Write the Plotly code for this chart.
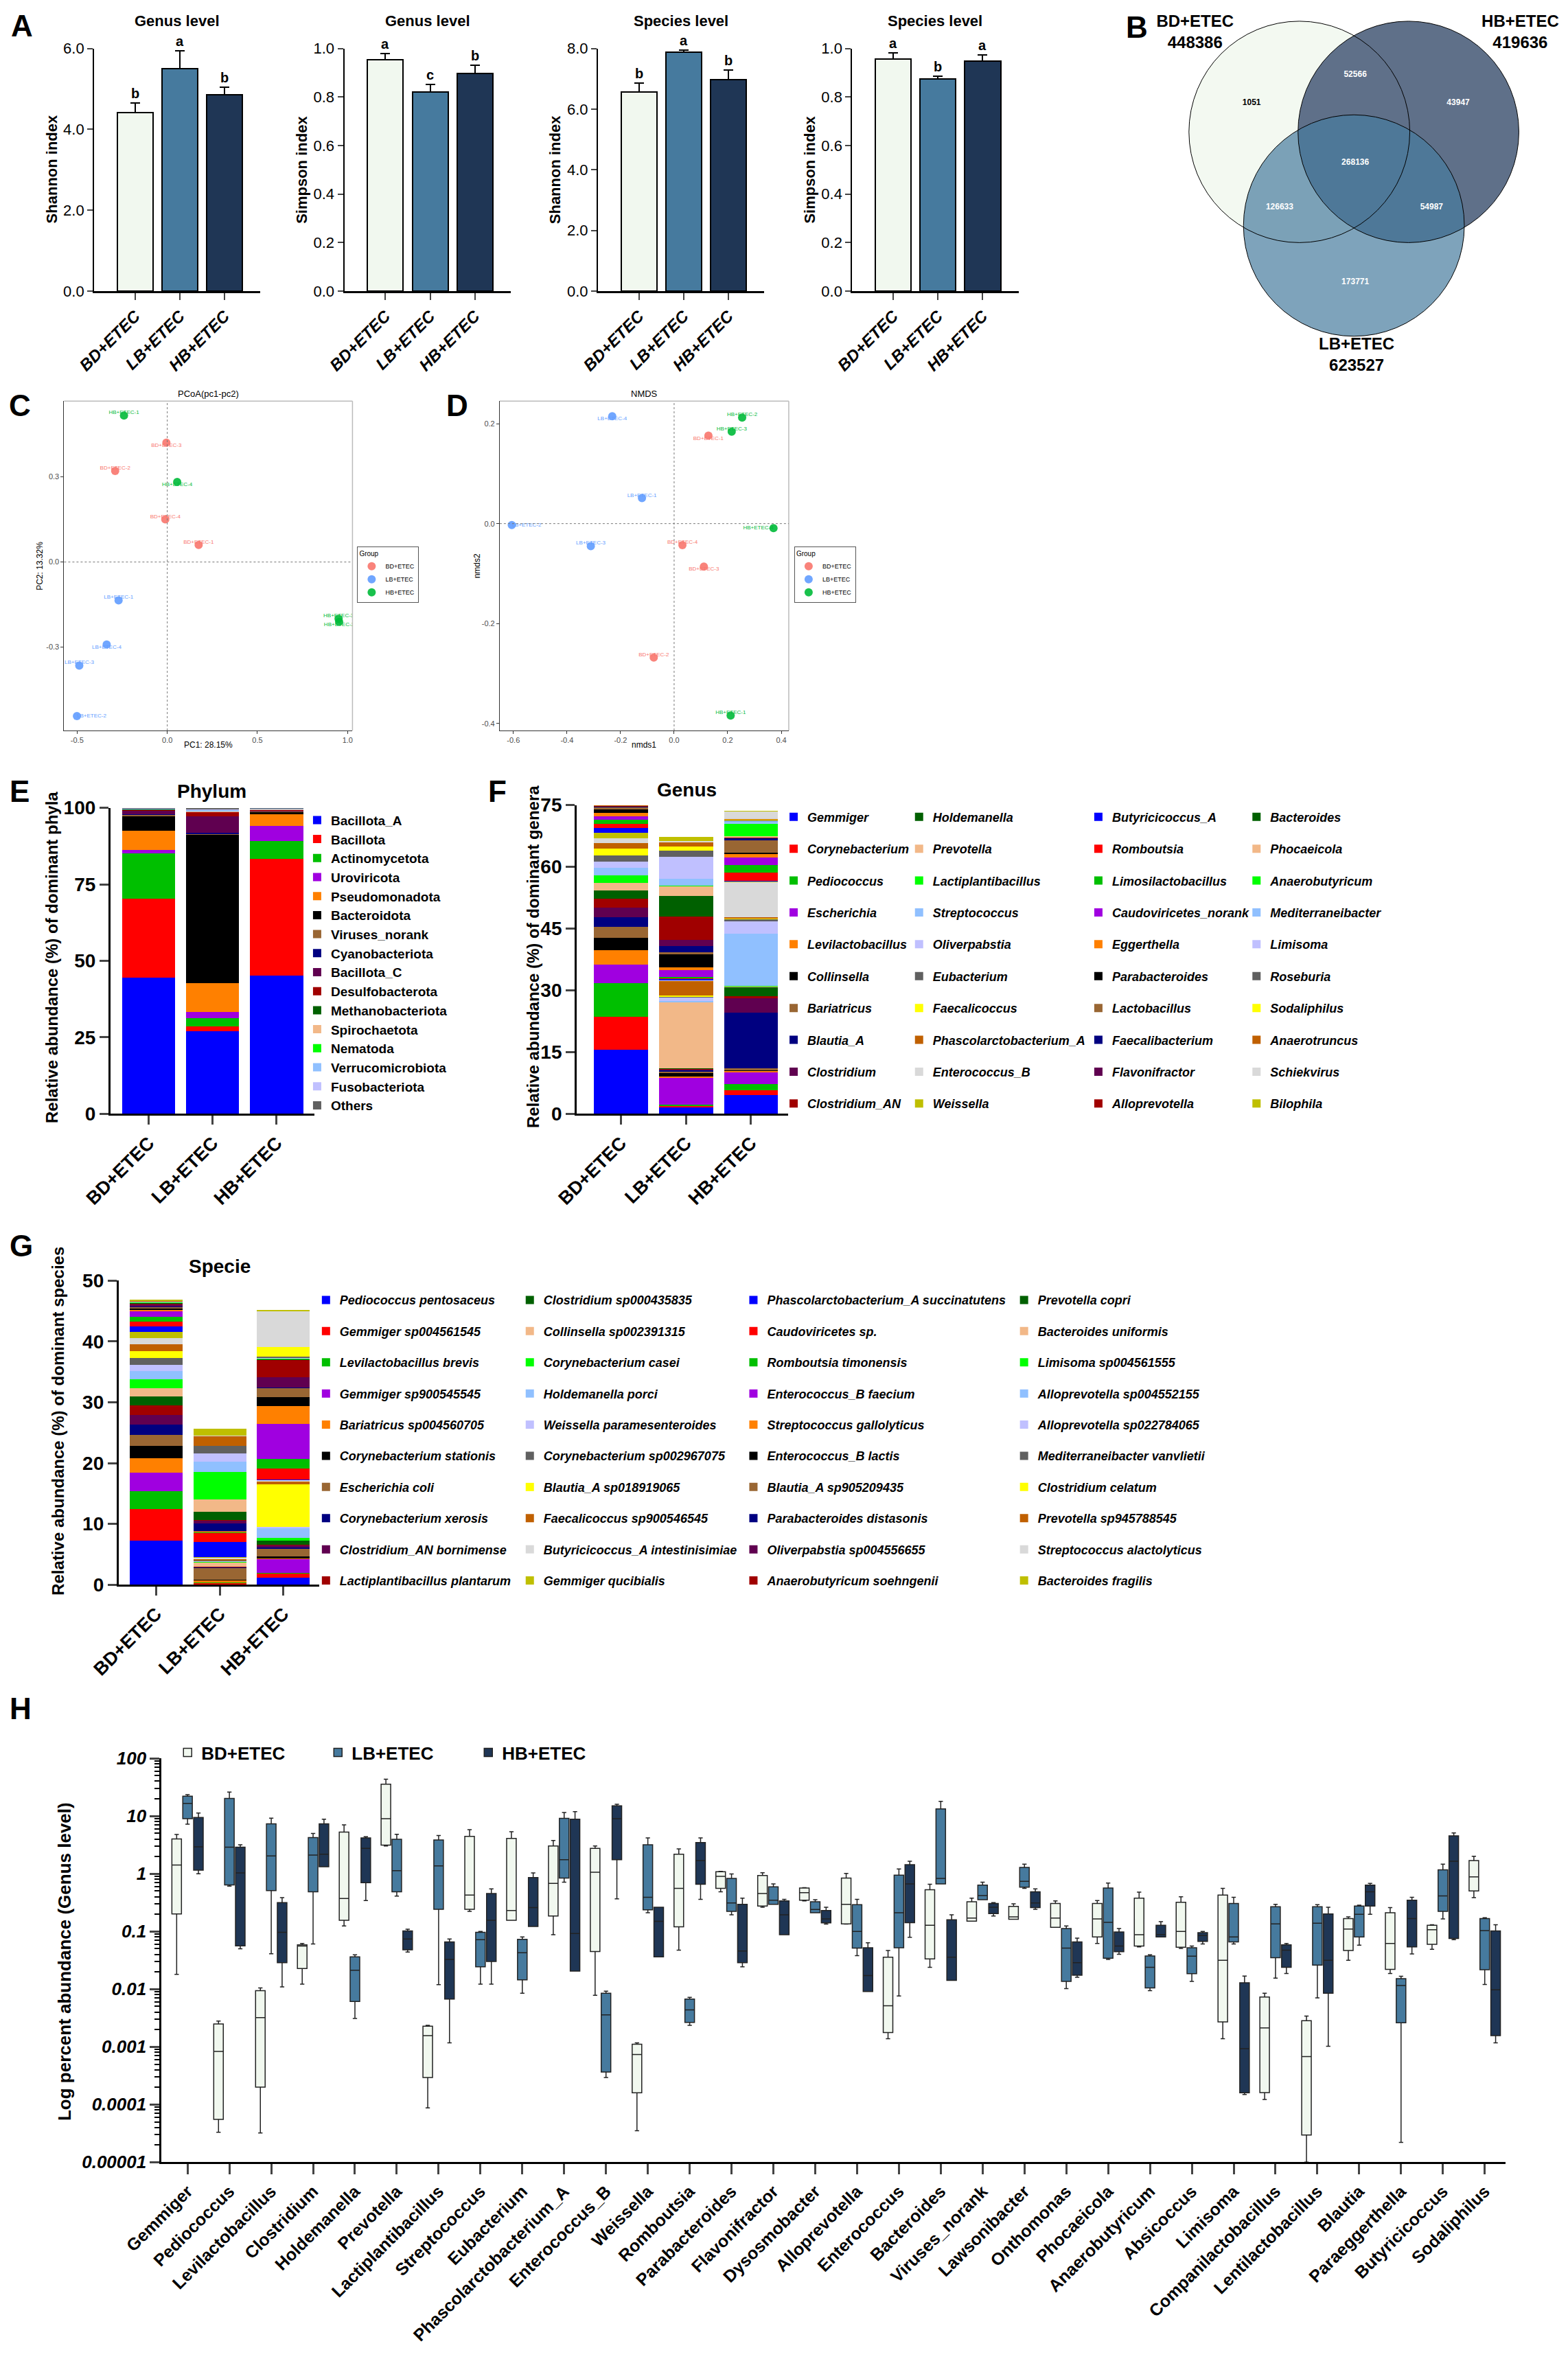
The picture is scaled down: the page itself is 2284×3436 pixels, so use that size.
import plotly.graph_objects as go

# Reference canvas in px; every layout position below is given in these units
W, H = 2284, 3436
FONT = "Liberation Sans, Arial, Helvetica, sans-serif"

# ── Groups ────────────────────────────────────────────────────────────────────
groups = ["BD+ETEC", "LB+ETEC", "HB+ETEC"]
group_fill = ["#F1F8EF", "#467A9E", "#1F3655"]
ord_colors = ["#F8766D", "#619CFF", "#00BA38"]

# Prism style 20 colour cycle of the stacked bars
palette = ["#0000FF", "#FF0000", "#00BF00", "#A000E0", "#FF8000",
           "#000000", "#996633", "#000080", "#600050", "#A00000",
           "#006000", "#F2B888", "#00FF00", "#90C0FF", "#C0C0FF",
           "#606060", "#FFFF00", "#C06000", "#D9D9D9", "#BFBF00"]

# ── A: alpha diversity (mean, SD, letters) ───────────────────────────────────
alpha_titles = ["Genus level", "Genus level", "Species level", "Species level"]
alpha_ytitles = ["Shannon index", "Simpson index", "Shannon index", "Simpson index"]
shannon_genus = [4.42, 5.51, 4.85]
shannon_genus_sd = [0.23, 0.44, 0.20]
shannon_genus_sig = ["b", "a", "b"]
simpson_genus = [0.953, 0.822, 0.897]
simpson_genus_sd = [0.025, 0.031, 0.033]
simpson_genus_sig = ["a", "c", "b"]
shannon_species = [6.57, 7.87, 6.97]
shannon_species_sd = [0.29, 0.08, 0.32]
shannon_species_sig = ["b", "a", "b"]
simpson_species = [0.957, 0.874, 0.949]
simpson_species_sd = [0.024, 0.011, 0.025]
simpson_species_sig = ["a", "b", "a"]
alpha_ymax = [6, 1, 8, 1]
alpha_dtick = [2, 0.2, 2, 0.2]

# ── B: Venn ──────────────────────────────────────────────────────────────────
venn_sets = ["BD+ETEC", "HB+ETEC", "LB+ETEC"]
venn_totals = [448386, 419636, 623527]
venn_regions = ["BD", "BD&HB", "HB", "BD&HB&LB", "BD&LB", "HB&LB", "LB"]
venn_counts = [1051, 52566, 43947, 268136, 126633, 54987, 173771]

# ── C: PCoA (samples 1..4 of each group) ─────────────────────────────────────
pcoa_bd_x = [0.174, -0.289, -0.005, -0.011]
pcoa_bd_y = [0.060, 0.321, 0.421, 0.150]
pcoa_lb_x = [-0.270, -0.501, -0.488, -0.336]
pcoa_lb_y = [-0.135, -0.543, -0.365, -0.291]
pcoa_hb_x = [-0.240, 0.953, 0.950, 0.055]
pcoa_hb_y = [0.516, -0.211, -0.200, 0.282]

# ── D: NMDS ──────────────────────────────────────────────────────────────────
nmds_bd_x = [0.128, -0.076, 0.111, 0.031]
nmds_bd_y = [0.176, -0.268, -0.086, -0.043]
nmds_lb_x = [-0.120, -0.606, -0.311, -0.231]
nmds_lb_y = [0.051, -0.003, -0.045, 0.215]
nmds_hb_x = [0.211, 0.254, 0.215, 0.371]
nmds_hb_y = [-0.384, 0.212, 0.184, -0.009]

# ── E: phylum composition (%) ────────────────────────────────────────────────
phyla = ["Bacillota_A", "Bacillota", "Actinomycetota", "Uroviricota", "Pseudomonadota",
         "Bacteroidota", "Viruses_norank", "Cyanobacteriota", "Bacillota_C", "Desulfobacterota",
         "Methanobacteriota", "Spirochaetota", "Nematoda", "Verrucomicrobiota", "Fusobacteriota",
         "Others"]
phylum_bd = [44.5, 25.9, 14.6, 1.3, 6.2, 5.0, 0.3, 0.1, 1.4, 0.2, 0.1, 0.1, 0.05, 0.05, 0.05, 0.15]
phylum_lb = [26.9, 1.7, 2.7, 2.0, 9.4, 48.6, 0.4, 0.1, 5.4, 1.5, 0.1, 0.2, 0.1, 0.4, 0.2, 0.3]
phylum_hb = [45.1, 38.1, 6.0, 4.8, 3.9, 0.8, 0.2, 0.1, 0.3, 0.2, 0.05, 0.1, 0.05, 0.1, 0.05, 0.1]

# ── F: genus composition (%) ─────────────────────────────────────────────────
genera = ["Gemmiger", "Corynebacterium", "Pediococcus", "Escherichia", "Levilactobacillus",
          "Collinsella", "Bariatricus", "Blautia_A", "Clostridium", "Clostridium_AN",
          "Holdemanella", "Prevotella", "Lactiplantibacillus", "Streptococcus", "Oliverpabstia",
          "Eubacterium", "Faecalicoccus", "Phascolarctobacterium_A", "Enterococcus_B", "Weissella",
          "Butyricicoccus_A", "Romboutsia", "Limosilactobacillus", "Caudoviricetes_norank", "Eggerthella",
          "Parabacteroides", "Lactobacillus", "Faecalibacterium", "Flavonifractor", "Alloprevotella",
          "Bacteroides", "Phocaeicola", "Anaerobutyricum", "Mediterraneibacter", "Limisoma",
          "Roseburia", "Sodaliphilus", "Anaerotruncus", "Schiekvirus", "Bilophila"]
genus_bd = [15.5, 8.1, 8.1, 4.6, 3.4, 3.1, 2.7, 2.2, 2.4, 2.1,
            2.0, 1.9, 1.8, 1.8, 1.5, 1.5, 1.7, 1.3, 1.3, 1.2,
            1.2, 1.0, 1.1, 0.8, 0.8, 0.8, 0.6, 0.3, 0.02, 0.02,
            0.02, 0.02, 0.02, 0.02, 0.02, 0.02, 0.02, 0.02, 0.02, 0.02]
genus_lb = [1.8, 0.3, 0.1, 6.7, 0.2, 0.8, 0.4, 0.5, 0.1, 0.1,
            0.1, 16.1, 0.1, 0.1, 1.0, 0.1, 0.3, 3.6, 0.1, 0.1,
            0.3, 0.1, 0.3, 1.6, 0.6, 3.2, 0.6, 1.4, 1.5, 5.7,
            5.1, 2.4, 0.1, 1.6, 5.4, 1.4, 1.0, 1.2, 0.1, 1.0]
genus_hb = [4.5, 1.3, 1.4, 3.1, 0.1, 0.4, 0.2, 13.5, 3.7, 0.3,
            2.4, 0.1, 0.1, 12.7, 3.0, 0.4, 0.4, 0.1, 8.7, 0.1,
            0.1, 2.0, 1.8, 1.9, 1.0, 0.1, 3.1, 0.5, 0.1, 0.1,
            0.1, 0.1, 3.0, 0.8, 0.1, 0.1, 0.1, 0.1, 1.9, 0.1]

# ── G: species composition (%) ───────────────────────────────────────────────
species = ["Pediococcus pentosaceus", "Gemmiger sp004561545", "Levilactobacillus brevis",
           "Gemmiger sp900545545", "Bariatricus sp004560705", "Corynebacterium stationis",
           "Escherichia coli", "Corynebacterium xerosis", "Clostridium_AN bornimense",
           "Lactiplantibacillus plantarum",
           "Clostridium sp000435835", "Collinsella sp002391315", "Corynebacterium casei",
           "Holdemanella porci", "Weissella paramesenteroides", "Corynebacterium sp002967075",
           "Blautia_A sp018919065", "Faecalicoccus sp900546545", "Butyricicoccus_A intestinisimiae",
           "Gemmiger qucibialis",
           "Phascolarctobacterium_A succinatutens", "Caudoviricetes sp.", "Romboutsia timonensis",
           "Enterococcus_B faecium", "Streptococcus gallolyticus", "Enterococcus_B lactis",
           "Blautia_A sp905209435", "Parabacteroides distasonis", "Oliverpabstia sp004556655",
           "Anaerobutyricum soehngenii",
           "Prevotella copri", "Bacteroides uniformis", "Limisoma sp004561555",
           "Alloprevotella sp004552155", "Alloprevotella sp022784065", "Mediterraneibacter vanvlietii",
           "Clostridium celatum", "Prevotella sp945788545", "Streptococcus alactolyticus",
           "Bacteroides fragilis"]
species_bd = [7.3, 5.1, 3.0, 3.0, 2.4, 2.0, 1.8, 1.7, 1.6, 1.6,
              1.5, 1.3, 1.5, 1.3, 1.1, 1.1, 1.1, 1.1, 1.1, 1.0,
              0.9, 0.8, 0.8, 0.8, 0.3, 0.2, 0.2, 0.2, 0.3, 0.1,
              0.1, 0.05, 0.05, 0.05, 0.05, 0.05, 0.05, 0.05, 0.05, 0.05]
species_lb = [0.1, 0.2, 0.05, 0.05, 0.3, 0.1, 2.0, 0.05, 0.05, 0.05,
              0.05, 0.7, 0.05, 0.05, 0.05, 0.1, 0.1, 0.2, 0.2, 0.1,
              2.5, 1.5, 0.05, 0.05, 0.05, 0.05, 0.05, 1.3, 0.4, 0.1,
              1.4, 2.0, 4.5, 1.7, 1.4, 1.2, 0.05, 1.6, 0.05, 1.1]
species_hb = [1.1, 0.8, 0.05, 2.3, 0.05, 0.3, 1.3, 0.2, 0.4, 0.05,
              0.7, 0.05, 0.4, 1.6, 0.2, 0.05, 7.0, 0.4, 0.2, 0.05,
              0.05, 1.8, 1.6, 5.8, 2.9, 1.5, 1.5, 0.05, 1.7, 2.9,
              0.05, 0.05, 0.05, 0.05, 0.05, 0.3, 1.5, 0.05, 5.9, 0.05]

# ── H: genus level abundance (%), box statistics per group ───────────────────
h_genera = ["Gemmiger", "Pediococcus", "Levilactobacillus", "Clostridium", "Holdemanella",
            "Prevotella", "Lactiplantibacillus", "Streptococcus", "Eubacterium",
            "Phascolarctobacterium_A", "Enterococcus_B", "Weissella", "Romboutsia",
            "Parabacteroides", "Flavonifractor", "Dysosmobacter", "Alloprevotella", "Enterococcus",
            "Bacteroides", "Viruses_norank", "Lawsonibacter", "Onthomonas", "Phocaeicola",
            "Anaerobutyricum", "Absicoccus", "Limisoma", "Companilactobacillus",
            "Lentilactobacillus", "Blautia", "Paraeggerthella", "Butyricicoccus", "Sodaliphilus"]
h_ticks = [0.00001, 0.0001, 0.001, 0.01, 0.1, 1, 10, 100]
h_ticktext = ["0.00001", "0.0001", "0.001", "0.01", "0.1", "1", "10", "100"]

bd_min = [0.018, 3.3e-5, 3.2e-5, 0.0122, 0.124, 3.03, 8.7e-5, 0.222, 0.156, 0.0873, 0.0078,
          3.5e-5, 0.0472, 0.486, 0.262, 0.337, 0.134, 0.00138, 0.0238, 0.151, 0.162, 0.118,
          0.0617, 0.054, 0.0505, 0.00138, 0.000122, 1e-5, 0.0316, 0.0186, 0.0488, 0.385]
bd_q1 = [0.2, 5.5e-5, 0.0002, 0.0227, 0.156, 3.13, 0.000294, 0.241, 0.156, 0.185, 0.0449,
         0.000159, 0.12, 0.555, 0.275, 0.348, 0.135, 0.00177, 0.0333, 0.151, 0.162, 0.118,
         0.0803, 0.0557, 0.0531, 0.00269, 0.000161, 2.96e-5, 0.0465, 0.0219, 0.0596, 0.502]
bd_med = [1.41, 0.00083, 0.0032, 0.0557, 0.371, 8.96, 0.00156, 0.425, 0.23, 0.678, 1.06,
          0.000734, 0.555, 0.9, 0.454, 0.47, 0.294, 0.00515, 0.128, 0.17, 0.179, 0.17,
          0.164, 0.0873, 0.1, 0.0316, 0.00213, 0.000676, 0.11, 0.0617, 0.107, 0.883]
bd_q3 = [4.0, 0.00248, 0.0094, 0.0586, 5.25, 35.6, 0.00228, 4.45, 4.09, 3.03, 2.74,
         0.00111, 2.17, 1.08, 0.93, 0.564, 0.841, 0.0356, 0.527, 0.326, 0.271, 0.305,
         0.305, 0.378, 0.32, 0.425, 0.00731, 0.00283, 0.167, 0.211, 0.128, 1.69]
bd_max = [4.8, 0.0028, 0.0105, 0.0617, 7.0, 43.5, 0.00236, 5.8, 5.33, 3.77, 3.03,
          0.00117, 2.7, 1.1, 1.04, 0.574, 1.01, 0.0465, 0.655, 0.378, 0.3, 0.337,
          0.342, 0.478, 0.397, 0.555, 0.0085, 0.0034, 0.179, 0.258, 0.13, 2.0]

lb_min = [7.2, 0.61, 0.041, 0.0605, 0.0031, 0.41, 0.0119, 0.0122, 0.0085, 0.713, 0.000294,
          0.211, 0.00236, 0.194, 0.294, 0.211, 0.038, 0.00757, 0.667, 0.354, 0.555, 0.0102,
          0.0326, 0.0094, 0.0136, 0.0605, 0.0155, 0.00703, 0.0577, 2.2e-5, 0.164, 0.012]
lb_q1 = [9.0, 0.64, 0.51, 0.486, 0.0061, 0.486, 0.241, 0.0243, 0.0145, 0.84, 0.000365,
         0.237, 0.00265, 0.222, 0.294, 0.211, 0.0513, 0.052, 0.667, 0.354, 0.583, 0.0136,
         0.0342, 0.0105, 0.0185, 0.0659, 0.035, 0.026, 0.08, 0.0026, 0.222, 0.0216]
lb_med = [16.5, 2.88, 2.03, 2.1, 0.0212, 1.13, 1.37, 0.0716, 0.0427, 1.75, 0.00357,
          0.391, 0.00437, 0.31, 0.348, 0.24, 0.1, 0.211, 0.828, 0.418, 0.736, 0.0513,
          0.143, 0.0238, 0.0372, 0.0803, 0.135, 0.139, 0.198, 0.0115, 0.411, 0.103]
lb_q3 = [22.0, 20.2, 7.3, 4.22, 0.0361, 3.96, 3.83, 0.0966, 0.0728, 9.1, 0.0085,
         3.18, 0.00673, 0.828, 0.593, 0.326, 0.29, 0.944, 13.3, 0.634, 1.28, 0.112,
         0.564, 0.0374, 0.052, 0.305, 0.267, 0.267, 0.275, 0.0152, 1.17, 0.167]
lb_max = [23.5, 26.0, 9.2, 5.0, 0.0393, 4.83, 4.59, 0.1, 0.0803, 11.5, 0.00923,
          4.16, 0.0072, 0.99, 0.667, 0.354, 0.36, 1.21, 18.0, 0.713, 1.46, 0.124,
          0.69, 0.0393, 0.0557, 0.391, 0.294, 0.29, 0.285, 0.0167, 1.46, 0.173]

hb_min = [1.0, 0.05, 0.0109, 1.32, 0.342, 0.044, 0.00117, 0.0122, 0.122, 0.0205, 0.366,
          0.0361, 0.36, 0.0243, 0.0873, 0.134, 0.0091, 0.079, 0.0142, 0.185, 0.241, 0.016,
          0.04, 0.08, 0.0605, 0.000149, 0.0186, 0.00102, 0.198, 0.0406, 0.0716, 0.00117]
hb_q1 = [1.15, 0.056, 0.0286, 1.32, 0.7, 0.048, 0.00673, 0.0301, 0.122, 0.0205, 1.75,
         0.0361, 0.655, 0.0286, 0.0873, 0.141, 0.0091, 0.1417, 0.0142, 0.204, 0.258, 0.0174,
         0.0446, 0.08, 0.067, 0.000159, 0.0238, 0.0085, 0.275, 0.0537, 0.0753, 0.00156]
hb_med = [2.93, 1.03, 0.0966, 2.17, 2.74, 0.074, 0.0327, 0.156, 0.258, 0.0918, 8.96,
          0.149, 1.69, 0.0456, 0.194, 0.164, 0.0171, 0.667, 0.0356, 0.262, 0.31, 0.0286,
          0.0557, 0.0883, 0.0845, 0.000927, 0.0472, 0.0316, 0.486, 0.167, 1.64, 0.0097]
hb_q3 = [9.4, 2.88, 0.315, 7.3, 4.16, 0.1016, 0.0659, 0.454, 0.855, 8.8, 15.0,
         0.262, 3.46, 0.294, 0.337, 0.23, 0.052, 1.43, 0.159, 0.305, 0.486, 0.0659,
         0.098, 0.128, 0.095, 0.0129, 0.0586, 0.201, 0.634, 0.348, 4.52, 0.1016]
hb_max = [11.3, 3.18, 0.385, 8.8, 4.37, 0.109, 0.074, 0.546, 1.03, 11.9, 16.0,
          0.262, 4.16, 0.378, 0.36, 0.262, 0.0637, 1.64, 0.194, 0.315, 0.546, 0.0766,
          0.112, 0.147, 0.1, 0.0168, 0.0617, 0.262, 0.678, 0.391, 5.08, 0.13]


# ── helpers ──────────────────────────────────────────────────────────────────
def xdom(a, b):
    return [a / W, b / W]


def ydom(top, bottom):
    return [1 - bottom / H, 1 - top / H]


def refs(n):
    return ("x" if n == 1 else f"x{n}"), ("y" if n == 1 else f"y{n}")


def keys(n):
    return ("xaxis" if n == 1 else f"xaxis{n}"), ("yaxis" if n == 1 else f"yaxis{n}")


def fnt(size, weight="normal", style="normal", color="black"):
    return dict(family=FONT, size=size, weight=weight, style=style, color=color)


fig = go.Figure()
layout = {}
annotations = []
shapes = []


def note(text, x, y, size, weight="bold", angle=0, color="black", style="normal"):
    annotations.append(dict(text=text, x=x / W, y=1 - y / H, xref="paper", yref="paper",
                            showarrow=False, textangle=angle, xanchor="center", yanchor="middle",
                            font=fnt(size, weight, style, color)))


# ── A ────────────────────────────────────────────────────────────────────────
alpha_sets = [(shannon_genus, shannon_genus_sd, shannon_genus_sig),
              (simpson_genus, simpson_genus_sd, simpson_genus_sig),
              (shannon_species, shannon_species_sd, shannon_species_sig),
              (simpson_species, simpson_species_sd, simpson_species_sig)]
a_left = [130, 497, 869, 1242]
for k, (mean, sd, sig) in enumerate(alpha_sets):
    n = k + 1
    xr, yr = refs(n)
    xk, yk = keys(n)
    fig.add_trace(go.Bar(
        x=groups, y=mean, width=0.8, xaxis=xr, yaxis=yr, showlegend=False,
        marker=dict(color=group_fill, line=dict(color="black", width=2)),
        error_y=dict(type="data", symmetric=False, array=sd, arrayminus=[0] * 3,
                     color="black", thickness=2, width=7),
    ))
    layout[xk] = dict(domain=xdom(a_left[k], a_left[k] + 244), anchor=yr, range=[-0.92, 2.8],
                      showline=True, linecolor="black", linewidth=3, ticks="outside",
                      ticklen=10, tickwidth=2, tickangle=-45, showgrid=False, zeroline=False,
                      automargin=False, tickfont=fnt(24, "bold", "italic"))
    layout[yk] = dict(domain=ydom(63, 418), anchor=xr, range=[0, alpha_ymax[k]],
                      dtick=alpha_dtick[k], tickformat=".1f", showline=True, linecolor="black",
                      linewidth=2, ticks="outside", ticklen=8, tickwidth=2, showgrid=False,
                      zeroline=False, automargin=False, tickfont=fnt(22))
    for i in range(3):
        annotations.append(dict(text=sig[i], x=groups[i], y=mean[i] + sd[i], xref=xr, yref=yr,
                                yanchor="bottom", yshift=1, showarrow=False,
                                font=fnt(20, "bold")))
    note(alpha_titles[k], a_left[k] + 122, 23, 22)
    note(alpha_ytitles[k], a_left[k] - 62, 240, 22, angle=-90)

# ── B: Venn (axis units = reference px) ──────────────────────────────────────
VENN_R = 162
venn_cx = [1898, 2058, 1978]
venn_cy = [185, 185, 322]
venn_fill = ["#F3F9F1", "#5F7089", "rgba(71,124,158,0.7)"]
venn_label_x = [1745, 2222, 1982]
venn_label_y = [41, 41, 513]
region_x = [1828, 1980, 2131, 1980, 1869, 2092, 1980]
region_y = [143, 101, 143, 230, 295, 295, 405]
region_color = ["black"] + ["white"] * 6

layout["xaxis5"] = dict(domain=xdom(1620, 2284), range=[1620, 2284], visible=False,
                        anchor="y5", automargin=False)
layout["yaxis5"] = dict(domain=ydom(0, 560), range=[560, 0], visible=False,
                        anchor="x5", automargin=False)
for i in range(3):
    shapes.append(dict(type="circle", xref="x5", yref="y5", layer="below",
                       x0=venn_cx[i] - VENN_R, x1=venn_cx[i] + VENN_R,
                       y0=venn_cy[i] - VENN_R, y1=venn_cy[i] + VENN_R,
                       fillcolor=venn_fill[i], line=dict(width=0)))
for i in range(3):
    shapes.append(dict(type="circle", xref="x5", yref="y5", layer="below",
                       x0=venn_cx[i] - VENN_R, x1=venn_cx[i] + VENN_R,
                       y0=venn_cy[i] - VENN_R, y1=venn_cy[i] + VENN_R,
                       line=dict(color="black", width=1)))
fig.add_trace(go.Scatter(x=region_x, y=region_y, mode="text", xaxis="x5", yaxis="y5",
                         text=[str(c) for c in venn_counts], customdata=venn_regions,
                         textfont=dict(family=FONT, size=12, weight="bold", color=region_color),
                         showlegend=False, hoverinfo="skip"))
fig.add_trace(go.Scatter(x=venn_label_x, y=venn_label_y, mode="text", xaxis="x5", yaxis="y5",
                         text=[f"{s}<br>{t}" for s, t in zip(venn_sets, venn_totals)],
                         textfont=dict(family=FONT, size=24, weight="bold", color="black"),
                         showlegend=False, hoverinfo="skip"))

# ── C & D: ordinations ───────────────────────────────────────────────────────
pcoa_pos = [["top center", "top center", "bottom center", "top center"],
            ["top center", "middle right", "top center", "bottom center"],
            ["top center", "bottom center", "top center", "bottom center"]]
nmds_pos = [["bottom center", "top center", "bottom center", "top center"],
            ["top center", "middle right", "top center", "bottom center"],
            ["top center", "top center", "top center", "middle left"]]


def ordination(n, xs, ys, pos, x_rng, y_rng, x_ticks, y_ticks, leg, left, right,
               title, xtitle, ytitle, ytitle_x):
    xr, yr = refs(n)
    xk, yk = keys(n)
    for g in range(3):
        fig.add_trace(go.Scatter(x=xs[g], y=ys[g], mode="markers", name=groups[g],
                                 marker=dict(size=12, color=ord_colors[g], opacity=0.9),
                                 xaxis=xr, yaxis=yr, legend=leg))
        fig.add_trace(go.Scatter(x=xs[g], y=ys[g], mode="text", showlegend=False,
                                 text=[f"{groups[g]}-{i + 1}" for i in range(len(xs[g]))],
                                 textposition=pos[g], xaxis=xr, yaxis=yr,
                                 textfont=dict(family=FONT, size=8, color=ord_colors[g])))
    tick = dict(showline=True, linecolor="#333", linewidth=1, ticks="outside", ticklen=4,
                tickcolor="#333", showgrid=False, zeroline=False, automargin=False,
                tickfont=fnt(11, color="#4d4d4d"))
    layout[xk] = dict(domain=xdom(left, right), anchor=yr, range=x_rng, tickvals=x_ticks,
                      ticktext=[f"{v:.1f}" for v in x_ticks], **tick)
    layout[yk] = dict(domain=ydom(579, 1061), anchor=xr, range=y_rng, tickvals=y_ticks,
                      ticktext=[f"{v:.1f}" for v in y_ticks], **tick)
    grey = dict(color="#BBBBBB", width=1.5)
    shapes.append(dict(type="line", xref=f"{xr} domain", yref=f"{yr} domain",
                       x0=0, x1=1, y0=1, y1=1, line=grey))
    shapes.append(dict(type="line", xref=f"{xr} domain", yref=f"{yr} domain",
                       x0=1, x1=1, y0=0, y1=1, line=grey))
    dot = dict(color="#777", width=1, dash="dot")
    shapes.append(dict(type="line", xref=xr, yref=f"{yr} domain", x0=0, x1=0, y0=0, y1=1, line=dot))
    shapes.append(dict(type="line", xref=f"{xr} domain", yref=yr, x0=0, x1=1, y0=0, y1=0, line=dot))
    note(title, (left + right) / 2, 568, 13, weight="normal")
    note(xtitle, (left + right) / 2, 1082, 12, weight="normal")
    note(ytitle, ytitle_x, 820, 12, weight="normal", angle=-90)


ordination(6, [pcoa_bd_x, pcoa_lb_x, pcoa_hb_x], [pcoa_bd_y, pcoa_lb_y, pcoa_hb_y], pcoa_pos,
           [-0.572, 1.027], [-0.594, 0.567], [-0.5, 0.0, 0.5, 1.0], [-0.3, 0.0, 0.3],
           "legend", 86, 509, "PCoA(pc1-pc2)", "PC1: 28.15%", "PC2: 13.32%", 51)
ordination(7, [nmds_bd_x, nmds_lb_x, nmds_hb_x], [nmds_bd_y, nmds_lb_y, nmds_hb_y], nmds_pos,
           [-0.651, 0.428], [-0.414, 0.245], [-0.6, -0.4, -0.2, 0.0, 0.2, 0.4],
           [-0.4, -0.2, 0.0, 0.2], "legend2", 725, 1149, "NMDS", "nmds1", "nmds2", 692)

group_legend = dict(yanchor="top", xanchor="left", bgcolor="white", bordercolor="#555",
                    borderwidth=1, font=fnt(9), title=dict(text="Group", font=fnt(10)),
                    itemsizing="constant", traceorder="normal")
layout["legend"] = dict(x=516 / W, y=1 - 792 / H, **group_legend)
layout["legend2"] = dict(x=1157 / W, y=1 - 792 / H, **group_legend)


# ── E, F, G: stacked composition bars ────────────────────────────────────────
def stacked(n, names, bd, lb, hb, legs, left, right, top, bottom, x_rng, y_max, dtick):
    xr, yr = refs(n)
    xk, yk = keys(n)
    for i, name in enumerate(names):
        fig.add_trace(go.Bar(x=groups, y=[bd[i], lb[i], hb[i]], name=name, width=0.83,
                             marker=dict(color=palette[i % len(palette)], line=dict(width=0)),
                             xaxis=xr, yaxis=yr, legend=legs[i], legendgroup=name))
    layout[xk] = dict(domain=xdom(left, right), anchor=yr, range=x_rng, showline=True,
                      linecolor="black", linewidth=3, ticks="outside", ticklen=13, tickwidth=3,
                      tickangle=-45, showgrid=False, zeroline=False, automargin=False,
                      tickfont=fnt(27, "bold"))
    layout[yk] = dict(domain=ydom(top, bottom), anchor=xr, range=[0, y_max], dtick=dtick,
                      showline=True, linecolor="black", linewidth=3, ticks="outside",
                      ticklen=13, tickwidth=3, showgrid=False, zeroline=False,
                      automargin=False, tickfont=fnt(28, "bold"))


stacked(8, phyla, phylum_bd, phylum_lb, phylum_hb, ["legend3"] * len(phyla),
        154, 453, 1174, 1622, [-0.6, 2.59], 100, 25)
stacked(9, genera, genus_bd, genus_lb, genus_hb,
        [f"legend{4 + i // 10}" for i in range(len(genera))],
        838, 1148, 1170, 1622, [-0.68, 2.57], 75, 15)
stacked(10, species, species_bd, species_lb, species_hb,
        [f"legend{8 + i // 10}" for i in range(len(species))],
        166, 460, 1866, 2311, [-0.59, 2.56], 50, 10)

layout["legend3"] = dict(x=437 / W, y=1 - 1173 / H, xanchor="left", yanchor="top",
                         bgcolor="rgba(0,0,0,0)", font=fnt(19, "bold"), traceorder="normal")
f_text_x = [1176, 1360, 1623, 1855]
g_text_x = [490, 789, 1117, 1514]
for c in range(4):
    layout[f"legend{4 + c}"] = dict(x=(f_text_x[c] - 40) / W, y=1 - 1169 / H, xanchor="left",
                                    yanchor="top", bgcolor="rgba(0,0,0,0)",
                                    font=fnt(18, "bold", "italic"), traceorder="grouped",
                                    tracegroupgap=20)
    layout[f"legend{8 + c}"] = dict(x=(g_text_x[c] - 40) / W, y=1 - 1876 / H, xanchor="left",
                                    yanchor="top", bgcolor="rgba(0,0,0,0)",
                                    font=fnt(18, "bold", "italic"), traceorder="grouped",
                                    tracegroupgap=19)

note("Phylum", 303, 1150, 28)
note("Genus", 999, 1148, 28)
note("Specie", 314, 1845, 28)
note("Relative abundance (%) of dominant phyla", 68, 1393, 24, angle=-90)
note("Relative abundance (%) of dominant genera", 774, 1392, 24, angle=-90)
note("Relative abundance (%) of dominant species", 77, 2071, 24, angle=-90)

# ── H: box plots on a log axis ───────────────────────────────────────────────
box_stats = [(bd_min, bd_q1, bd_med, bd_q3, bd_max),
             (lb_min, lb_q1, lb_med, lb_q3, lb_max),
             (hb_min, hb_q1, hb_med, hb_q3, hb_max)]
for g, (mn, q1, md, q3, mx) in enumerate(box_stats):
    fig.add_trace(go.Box(x=h_genera, lowerfence=mn, q1=q1, median=md, q3=q3, upperfence=mx,
                         name=groups[g], fillcolor=group_fill[g], boxpoints=False,
                         line=dict(color="#222", width=1.5), whiskerwidth=0.45,
                         xaxis="x11", yaxis="y11", legend="legend12"))
minor_vals = [k * 10 ** e for e in range(-5, 2) for k in range(2, 10)]
layout["xaxis11"] = dict(domain=xdom(229, 2200), anchor="y11", range=[-0.62, 31.49],
                         categoryorder="array", categoryarray=h_genera, showline=True,
                         linecolor="black", linewidth=3, ticks="outside", ticklen=15,
                         tickwidth=3, tickangle=-45, showgrid=False, zeroline=False,
                         automargin=False, tickfont=fnt(25, "bold"))
layout["yaxis11"] = dict(domain=ydom(2565, 3156), anchor="x11", type="log", range=[-5, 2],
                         tickvals=h_ticks, ticktext=h_ticktext, showline=True,
                         linecolor="black", linewidth=3, ticks="outside", ticklen=14,
                         tickwidth=3, showgrid=False, zeroline=False, automargin=False,
                         tickfont=fnt(26, "bold", "italic"),
                         minor=dict(tickvals=minor_vals, ticks="outside", ticklen=7,
                                    tickwidth=1.5, tickcolor="black", showgrid=False))
layout["legend12"] = dict(orientation="h", x=247 / W, y=1 - 2533 / H, xanchor="left",
                          yanchor="top", bgcolor="rgba(0,0,0,0)", font=fnt(26, "bold"),
                          entrywidth=174, entrywidthmode="pixels", traceorder="normal")
note("Log percent abundance (Genus level)", 86, 2862, 26, angle=-90)

# ── panel letters ────────────────────────────────────────────────────────────
panel_letters = ["A", "B", "C", "D", "E", "F", "G", "H"]
panel_xy = [(24, 30), (1660, 32), (21, 585), (663, 585), (21, 1150), (722, 1150),
            (23, 1815), (22, 2492)]
for letter, (lx, ly) in zip(panel_letters, panel_xy):
    note(letter, lx, ly, 44)

fig.update_layout(
    width=2268, height=3420,
    margin=dict(l=0, r=0, t=0, b=0, autoexpand=False),
    paper_bgcolor="white", plot_bgcolor="white",
    font=dict(family=FONT, color="black"),
    barmode="stack", boxmode="group", boxgap=0.22, boxgroupgap=0.12,
    showlegend=True,
    annotations=annotations, shapes=shapes,
    **layout,
)

fig.write_html("out.html")
